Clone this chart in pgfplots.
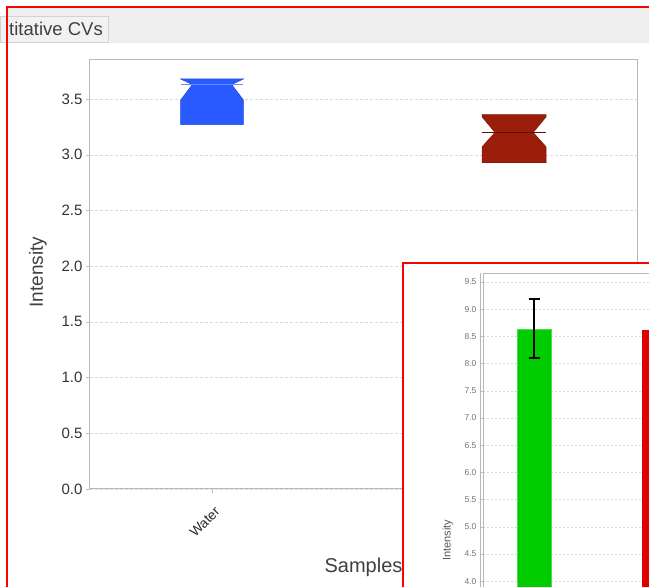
\documentclass[border=0pt]{standalone}
\usepackage{fontspec}
\setmainfont{Liberation Sans}
\usepackage{pgfplots}
\pgfplotsset{compat=1.18}
\definecolor{boxblue}{HTML}{285AFF}
\definecolor{boxred}{HTML}{9A1E0A}
\definecolor{bargreen}{HTML}{00CC00}
\definecolor{barred}{HTML}{DD0000}
\definecolor{tabgrey}{HTML}{EEEEEE}
\begin{document}
\begin{tikzpicture}
\useasboundingbox (0pt,0pt) rectangle (649pt,587pt);
\clip (0pt,0pt) rectangle (649pt,587pt);
\fill[white] (0pt,0pt) rectangle (649pt,587pt);
\fill[tabgrey] (8pt,544pt) rectangle (649pt,579pt);
\draw[gray!35, fill=gray!10] (0pt,545pt) rectangle (108pt,571pt);
\node[anchor=east, font=\fontsize{18.5}{22}\selectfont, text=black!75, inner sep=0pt] at (103pt,558pt) {titative CVs};
\begin{axis}[at={(90pt,98pt)}, anchor=south west, width=547pt, height=429pt, scale only axis,
  xmin=-0.404, xmax=1.407, ymin=0, ymax=3.85,
  xtick={0}, xticklabels={Water},
  ytick distance=0.5, xtick pos=bottom, ytick pos=left,
  ymajorgrids, grid style={dash pattern=on 3pt off 2pt, gray!30},
  tick align=outside, major tick length=4pt, tick style={gray!50},
  axis line style={gray!55, line width=1pt},
  yticklabel style={font=\fontsize{15}{18}\selectfont, text=black!80},
  xticklabel style={font=\fontsize{13.5}{16}\selectfont, text=black!85, xshift=2pt, yshift=-8pt, rotate=45, anchor=north east},
  /pgf/number format/.cd, fixed, fixed zerofill, precision=1, assume math mode=true, /pgfplots/.cd,
  ylabel={Intensity}, xlabel={Samples},
  ylabel style={at={(axis description cs:-0.095,0.506)}, anchor=center, font=\fontsize{19}{22}\selectfont, text=black!75},
  xlabel style={at={(axis description cs:0.5,-0.182)}, anchor=center, font=\fontsize{20}{24}\selectfont, text=black!75},
  clip=false]
\addplot[fill=boxblue, draw=boxblue!85!black, line width=0.6pt] coordinates {(-0.104,3.27) (0.104,3.27) (0.104,3.49) (0.065,3.63) (0.104,3.68) (-0.104,3.68) (-0.065,3.63) (-0.104,3.49) (-0.104,3.27)};
\addplot[draw=boxblue!70!white, line width=1.2pt] coordinates {(-0.104,3.63) (0.104,3.63)};
\addplot[fill=boxred, draw=boxred!85!black, line width=0.6pt] coordinates {(0.894,2.93) (1.106,2.93) (1.106,3.07) (1.063,3.20) (1.106,3.34) (1.106,3.36) (0.894,3.36) (0.894,3.34) (0.937,3.20) (0.894,3.07) (0.894,2.93)};
\addplot[draw=boxred!60!black, line width=1.2pt] coordinates {(0.894,3.20) (1.106,3.20)};
\end{axis}
\draw[red, line width=2pt] (7pt,-5pt) -- (7pt,580pt) -- (660pt,580pt);
\draw[red, line width=2pt, fill=white] (403pt,-10pt) -- (403pt,324pt) -- (660pt,324pt) -- (660pt,-10pt) -- cycle;
\begin{axis}[at={(483pt,314pt)}, anchor=north west, width=300pt, height=525.8pt, scale only axis,
  xmin=-0.408, xmax=1.992, ymin=0, ymax=9.665,
  ytick distance=0.5, xtick=\empty, ytick pos=left,
  ymajorgrids, grid style={dash pattern=on 2pt off 2pt, gray!30},
  tick align=outside, major tick length=3pt, tick style={gray!50},
  axis line style={gray!55, line width=0.8pt},
  yticklabel style={font=\fontsize{8.5}{10}\selectfont, text=black!55},
  /pgf/number format/.cd, fixed, fixed zerofill, precision=1, assume math mode=true, /pgfplots/.cd,
  ylabel={Intensity},
  ylabel style={at={(axis description cs:-0.117,0.492)}, anchor=center, font=\fontsize{11}{13}\selectfont, text=black!65},
  ybar, bar width=34pt]
\addplot[bar shift=0pt, fill=bargreen, draw=bargreen!70!white,
  error bars/.cd, y dir=both, y explicit,
  error bar style={black, line width=1.6pt},
  error mark options={rotate=90, mark size=5.5pt, line width=1.6pt, black}]
  coordinates {(0,8.63) += (0,0.56) -= (0,0.53)};
\addplot[bar shift=0pt, fill=barred, draw=barred,
  error bars/.cd, y dir=both, y explicit,
  error bar style={black, line width=1.6pt},
  error mark options={rotate=90, mark size=5.5pt, line width=1.6pt, black}]
  coordinates {(1,8.62) += (0,0.50) -= (0,0.50)};
\end{axis}
\draw[gray!55, line width=0.8pt] (480pt,-10pt) -- (480pt,314pt);
\end{tikzpicture}
\end{document}
